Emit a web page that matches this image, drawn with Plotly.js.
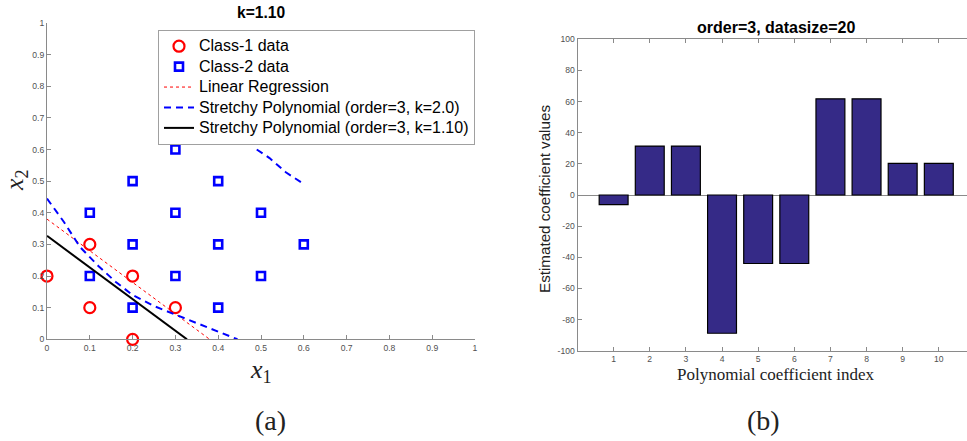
<!DOCTYPE html>
<html>
<head>
<meta charset="utf-8">
<script src="https://cdn.plot.ly/plotly-3.0.1.min.js"></script>
<style>html,body{margin:0;padding:0;background:#fff;overflow:hidden}</style>
</head>
<body>
<div id="chart" style="width:967px;height:441px"></div>
<script>
// ---- Panel (a) data ----
const class1X = [0.0, 0.1, 0.1, 0.2, 0.2, 0.3];
const class1Y = [0.2, 0.3, 0.1, 0.2, 0.0, 0.1];
const class2X = [0.1, 0.1, 0.2, 0.2, 0.2, 0.3, 0.3, 0.3, 0.4, 0.4, 0.4, 0.5, 0.5, 0.6];
const class2Y = [0.4, 0.2, 0.5, 0.3, 0.1, 0.6, 0.4, 0.2, 0.5, 0.3, 0.1, 0.4, 0.2, 0.3];
const linRegX = [0.0, 0.38];
const linRegY = [0.38, 0.0];
const polyK20LowerX = [0.0, 0.04, 0.077, 0.12, 0.16, 0.2, 0.25, 0.3, 0.35, 0.4, 0.445];
const polyK20LowerY = [0.445, 0.37, 0.292, 0.232, 0.182, 0.14, 0.105, 0.078, 0.05, 0.022, 0.0];
const polyK20UpperX = [0.49, 0.52, 0.558, 0.60];
const polyK20UpperY = [0.60, 0.573, 0.528, 0.491];
const polyK110X = [0.0, 0.327];
const polyK110Y = [0.327, 0.0];
const axisTicksA = [0, 0.1, 0.2, 0.3, 0.4, 0.5, 0.6, 0.7, 0.8, 0.9, 1];
const legendNames = ['Class-1 data', 'Class-2 data', 'Linear Regression',
  'Stretchy Polynomial (order=3, k=2.0)', 'Stretchy Polynomial (order=3, k=1.10)'];

// ---- Panel (b) data ----
const coefIndex = [1, 2, 3, 4, 5, 6, 7, 8, 9, 10];
const coefValues = [-6.2, 31.4, 31.4, -88.8, -44.0, -44.0, 61.8, 61.8, 20.3, 20.3];
const yTickValsB = [-100, -80, -60, -40, -20, 0, 20, 40, 60, 80, 100];
const yTickTextB = ['-100', '-80', '-60', '-40', '-20', '0', '20', '40', '60', '80', '100'];

const W = 967, H = 441;
const px = v => v / W;
const py = v => 1 - v / H;

const sans = 'Liberation Sans, Arial, Helvetica, sans-serif';
const serif = 'Liberation Serif, Times New Roman, serif';
const lg = s => '<span style="font-size:16px">' + s + '</span>';

const traces = [
  {x: class1X, y: class1Y, type: 'scatter', mode: 'markers', name: lg(legendNames[0]),
   marker: {symbol: 'circle-open', size: 11, color: '#ff0000', line: {width: 2.2, color: '#ff0000'}},
   cliponaxis: false, xaxis: 'x', yaxis: 'y'},
  {x: class2X, y: class2Y, type: 'scatter', mode: 'markers', name: lg(legendNames[1]),
   marker: {symbol: 'square-open', size: 8, color: '#0000ff', line: {width: 2.6, color: '#0000ff'}},
   cliponaxis: false, xaxis: 'x', yaxis: 'y'},
  {x: linRegX, y: linRegY, type: 'scatter', mode: 'lines', name: lg(legendNames[2]),
   line: {color: '#ff0000', width: 1, dash: 'dot'}, xaxis: 'x', yaxis: 'y'},
  {x: polyK20LowerX, y: polyK20LowerY, type: 'scatter', mode: 'lines', name: lg(legendNames[3]),
   line: {color: '#0000ff', width: 2, dash: '7px,5px'}, xaxis: 'x', yaxis: 'y'},
  {x: polyK20UpperX, y: polyK20UpperY, type: 'scatter', mode: 'lines', showlegend: false,
   line: {color: '#0000ff', width: 2, dash: '7px,5px'}, xaxis: 'x', yaxis: 'y'},
  {x: polyK110X, y: polyK110Y, type: 'scatter', mode: 'lines', name: lg(legendNames[4]),
   line: {color: '#000000', width: 2}, xaxis: 'x', yaxis: 'y'},
  {x: coefIndex, y: coefValues, type: 'bar', width: 0.8, showlegend: false,
   marker: {color: 'rgb(53,42,135)', line: {color: '#000000', width: 1.2}},
   xaxis: 'x2', yaxis: 'y2'}
];

const axCommon = {
  showgrid: false, zeroline: false, showline: true, linecolor: '#8a8a8a', linewidth: 1,
  ticks: 'inside', ticklen: 4, tickwidth: 1, tickcolor: '#8a8a8a',
  tickfont: {family: sans, size: 8.6, color: '#505050'}, fixedrange: true
};

const layout = {
  width: W, height: H,
  margin: {l: 0, r: 0, t: 0, b: 0},
  paper_bgcolor: '#ffffff', plot_bgcolor: '#ffffff',
  showlegend: true,
  legend: {x: px(158), y: py(30), xanchor: 'left', yanchor: 'top',
    bgcolor: 'rgba(255,255,255,0)', bordercolor: '#a0a0a0', borderwidth: 1,
    font: {family: sans, size: 13.4, color: '#000000'}, itemwidth: 30},
  xaxis: Object.assign({}, axCommon, {domain: [px(47), px(475)], range: [0, 1], tickvals: axisTicksA, anchor: 'y'}),
  yaxis: Object.assign({}, axCommon, {domain: [py(339.3), py(23)], range: [0, 1], tickvals: axisTicksA, anchor: 'x'}),
  xaxis2: Object.assign({}, axCommon, {domain: [px(577.5), 1], range: [0, 10.78], tickvals: coefIndex,
    mirror: 'ticks', anchor: 'y2'}),
  yaxis2: Object.assign({}, axCommon, {domain: [py(350.7), py(39.3)], range: [-100, 100],
    tickvals: yTickValsB, ticktext: yTickTextB, zeroline: true, zerolinecolor: '#8a8a8a', zerolinewidth: 1,
    anchor: 'x2'}),
  annotations: [
    {text: '<b>k=1.10</b>', x: px(261), y: py(12), xref: 'paper', yref: 'paper', showarrow: false,
     xanchor: 'center', yanchor: 'middle', font: {family: sans, size: 15.6, color: '#000'}},
    {text: '<b>order=3, datasize=20</b>', x: px(776), y: py(27.5), xref: 'paper', yref: 'paper', showarrow: false,
     xanchor: 'center', yanchor: 'middle', font: {family: sans, size: 16, color: '#000'}},
    {text: '<i>x</i><sub>1</sub>', x: px(261), y: py(371), xref: 'paper', yref: 'paper', showarrow: false,
     xanchor: 'center', yanchor: 'middle', font: {family: serif, size: 26, color: '#222'}},
    {text: '<i>x</i><sub>2</sub>', x: px(16), y: py(180), xref: 'paper', yref: 'paper', showarrow: false,
     textangle: -90, xanchor: 'center', yanchor: 'middle', font: {family: serif, size: 26, color: '#222'}},
    {text: 'Polynomial coefficient index', x: px(776), y: py(374), xref: 'paper', yref: 'paper', showarrow: false,
     xanchor: 'center', yanchor: 'middle', font: {family: serif, size: 17, color: '#222'}},
    {text: 'Estimated coefficient values', x: px(544), y: py(199), xref: 'paper', yref: 'paper', showarrow: false,
     textangle: -90, xanchor: 'center', yanchor: 'middle', font: {family: sans, size: 15.2, color: '#222'}},
    {text: '(a)', x: px(270), y: py(420), xref: 'paper', yref: 'paper', showarrow: false,
     xanchor: 'center', yanchor: 'middle', font: {family: serif, size: 28, color: '#222'}},
    {text: '(b)', x: px(763), y: py(420), xref: 'paper', yref: 'paper', showarrow: false,
     xanchor: 'center', yanchor: 'middle', font: {family: serif, size: 28, color: '#222'}}
  ]
};

Plotly.newPlot('chart', traces, layout, {displayModeBar: false, staticPlot: true});
</script>
</body>
</html>
